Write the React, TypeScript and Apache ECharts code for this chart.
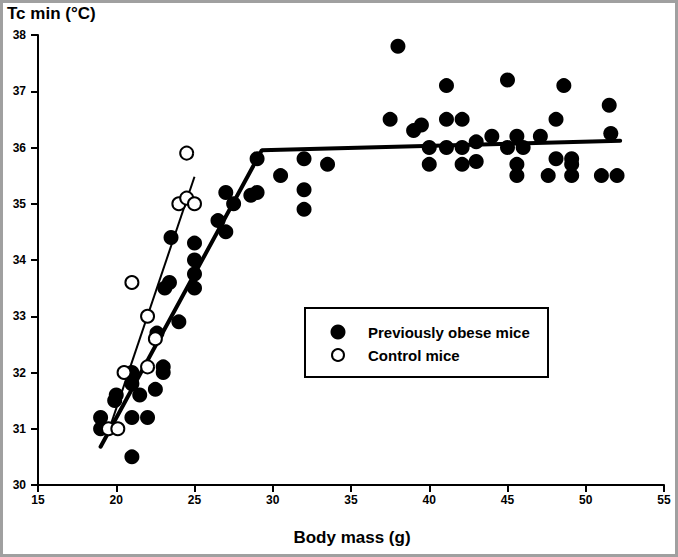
import React, { useEffect, useRef } from "react";
import * as echarts from "echarts";

const xTicks = [15, 20, 25, 30, 35, 40, 45, 50, 55];
const yTicks = [30, 31, 32, 33, 34, 35, 36, 37, 38];

const obeseMass = [
  19, 19, 20, 19.9, 21, 21, 22, 21.5, 21, 21, 22.5, 22.6, 23, 23, 23.1, 23.4, 23.5, 24,
  25, 25, 25, 25, 26.5, 27, 27, 27.5, 28.6, 29, 29, 30.5, 32, 32, 32, 33.5,
  38, 41.1, 45, 48.6, 37.5, 39, 39.5, 41.1, 42.1, 40, 41.1, 42.1, 43, 44, 45.6, 45, 46,
  47.1, 48.1, 48.1, 49.1, 49.1, 49.1, 47.6, 40, 42.1, 43, 45.6, 45.6, 51, 51.5, 51.6, 52,
];
const obeseTemp = [
  31.2, 31.0, 31.6, 31.5, 30.5, 31.2, 31.2, 31.6, 31.8, 32.0, 31.7, 32.7, 32.0, 32.1, 33.5, 33.6, 34.4, 32.9,
  33.5, 33.75, 34.0, 34.3, 34.7, 34.5, 35.2, 35.0, 35.15, 35.2, 35.8, 35.5, 35.8, 35.25, 34.9, 35.7,
  37.8, 37.1, 37.2, 37.1, 36.5, 36.3, 36.4, 36.5, 36.5, 36.0, 36.0, 36.0, 36.1, 36.2, 36.2, 36.0, 36.0,
  36.2, 36.5, 35.8, 35.8, 35.7, 35.5, 35.5, 35.7, 35.7, 35.75, 35.7, 35.5, 35.5, 36.75, 36.25, 35.5,
];

const controlMass = [19.5, 20.1, 20.5, 21, 22, 22, 22.5, 24, 24.5, 25, 24.5];
const controlTemp = [31.0, 31.0, 32.0, 33.6, 33.0, 32.1, 32.6, 35.0, 35.1, 35.0, 35.9];

const obeseFitMass = [19, 29.3, 52.2];
const obeseFitTemp = [30.68, 35.95, 36.12];
const controlFitMass = [19.5, 25];
const controlFitTemp = [30.95, 35.48];

const FONT = "Liberation Sans, Arial, sans-serif";

export default function App() {
  const ref = useRef<HTMLDivElement>(null);
  useEffect(() => {
    if (!ref.current) return;
    const chart = echarts.init(ref.current, null, { renderer: "svg" });
    const zip = (a: number[], b: number[]) => a.map((v, i) => [v, b[i]]);
    chart.setOption({
      animation: false,
      backgroundColor: "#ffffff",
      grid: { left: 38, right: 14, top: 35, bottom: 72 },
      xAxis: {
        type: "value",
        min: xTicks[0],
        max: xTicks[xTicks.length - 1],
        interval: 5,
        axisLine: { show: true, onZero: false, lineStyle: { color: "#000", width: 2 } },
        axisTick: { show: true, length: 7, lineStyle: { color: "#000", width: 2 } },
        axisLabel: { color: "#000", fontWeight: "bold", fontSize: 12, fontFamily: FONT, margin: 9 },
        splitLine: { show: false },
      },
      yAxis: {
        type: "value",
        min: yTicks[0],
        max: yTicks[yTicks.length - 1],
        interval: 1,
        axisLine: { show: true, onZero: false, lineStyle: { color: "#000", width: 2 } },
        axisTick: { show: true, length: 7, lineStyle: { color: "#000", width: 2 } },
        axisLabel: { color: "#000", fontWeight: "bold", fontSize: 12, fontFamily: FONT, margin: 12 },
        splitLine: { show: false },
      },
      series: [
        {
          name: "Previously obese mice",
          type: "scatter",
          symbol: "circle",
          symbolSize: 15,
          itemStyle: { color: "#000", opacity: 1 },
          data: zip(obeseMass, obeseTemp),
          z: 3,
        },
        {
          name: "Obese fit",
          type: "line",
          symbol: "none",
          lineStyle: { color: "#000", width: 4, cap: "round", opacity: 1 },
          data: zip(obeseFitMass, obeseFitTemp),
          z: 4,
        },
        {
          name: "Control fit",
          type: "line",
          symbol: "none",
          lineStyle: { color: "#000", width: 2, opacity: 1 },
          data: zip(controlFitMass, controlFitTemp),
          z: 4,
        },
        {
          name: "Control mice",
          type: "scatter",
          symbol: "circle",
          symbolSize: 13,
          itemStyle: { color: "#fff", borderColor: "#000", borderWidth: 2, opacity: 1 },
          data: zip(controlMass, controlTemp),
          z: 5,
        },
      ],
      graphic: [
        {
          type: "rect",
          shape: { x: 1.5, y: 1.5, width: 675, height: 554 },
          style: { fill: "none", stroke: "#a0a0a0", lineWidth: 3 },
          silent: true,
        },
        {
          type: "text",
          left: 7,
          top: 5,
          style: { text: "Tc min (°C)", fill: "#000", font: `bold 17px ${FONT}` },
        },
        {
          type: "text",
          x: 352,
          y: 537,
          style: {
            text: "Body mass (g)",
            fill: "#000",
            font: `bold 17px ${FONT}`,
            align: "center",
            verticalAlign: "middle",
          },
        },
        {
          type: "rect",
          shape: { x: 305, y: 308, width: 243, height: 69 },
          style: { fill: "#fff", stroke: "#000", lineWidth: 2 },
          z: 10,
        },
        {
          type: "circle",
          shape: { cx: 338, cy: 332, r: 7.5 },
          style: { fill: "#000" },
          z: 11,
        },
        {
          type: "circle",
          shape: { cx: 338, cy: 355, r: 6 },
          style: { fill: "#fff", stroke: "#000", lineWidth: 2 },
          z: 11,
        },
        {
          type: "text",
          x: 368,
          y: 332,
          style: {
            text: "Previously obese mice",
            fill: "#000",
            font: `bold 15px ${FONT}`,
            verticalAlign: "middle",
          },
          z: 11,
        },
        {
          type: "text",
          x: 368,
          y: 355,
          style: {
            text: "Control mice",
            fill: "#000",
            font: `bold 15px ${FONT}`,
            verticalAlign: "middle",
          },
          z: 11,
        },
      ],
    });
    return () => chart.dispose();
  }, []);
  return (
    <div
      ref={ref}
      style={{ position: "absolute", left: 0, top: 0, width: 678, height: 557 }}
    />
  );
}
